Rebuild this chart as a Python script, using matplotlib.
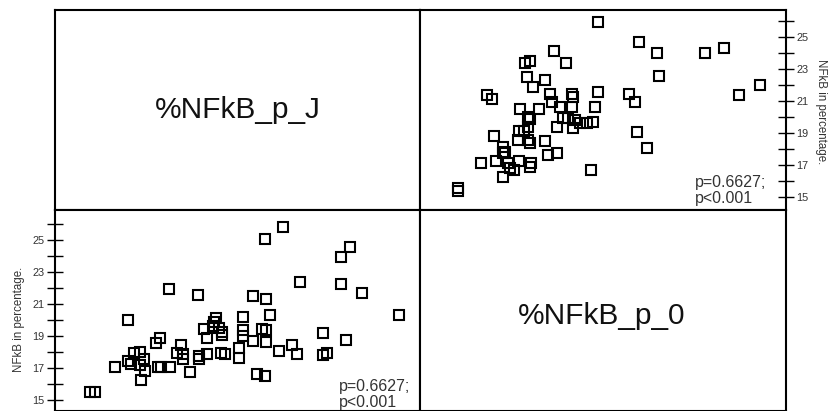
import numpy as np
import matplotlib
matplotlib.use("Agg")
import matplotlib.pyplot as plt

plt.rcParams['font.family'] = ['Liberation Sans', 'DejaVu Sans']

# values: (%NFkB_p_0, %NFkB_p_J) pairs
p_0 = [20.28, 21.66, 22.27, 23.92, 24.57, 18.76, 19.16, 17.78, 17.94, 22.35,
       25.79, 25.08, 17.85, 18.46, 18.06, 16.47, 16.64, 18.63, 19.37, 19.42,
       20.28, 21.33, 21.53, 18.69, 18.97, 19.37, 20.16, 17.60, 18.26, 17.89,
       17.94, 19.08, 19.25, 19.48, 19.65, 19.88, 20.10, 18.86, 19.42, 17.57,
       17.75, 17.89, 21.59, 16.72, 17.55, 17.89, 17.94, 18.46, 17.03, 17.09,
       17.03, 21.93, 18.57, 18.88, 16.27, 16.78, 17.20, 17.26, 17.41, 17.58,
       17.97, 17.94, 17.03, 20.02, 15.48, 15.48]
p_J = [25.96, 24.71, 23.98, 23.98, 24.29, 24.14, 23.36, 23.36, 23.50, 22.58,
       22.00, 21.38, 22.48, 22.31, 21.86, 21.38, 21.11, 21.42, 21.42, 21.27,
       21.54, 21.42, 20.96, 20.96, 20.64, 20.64, 20.61, 20.48, 20.50, 20.02,
       19.88, 19.92, 19.92, 19.81, 19.61, 19.64, 19.71, 19.39, 19.29, 19.13,
       19.13, 19.39, 19.08, 18.81, 18.56, 18.56, 18.36, 18.50, 18.14, 17.83,
       17.73, 18.08, 17.63, 17.77, 17.14, 17.27, 17.11, 16.79, 16.69, 17.25,
       17.11, 16.89, 16.23, 16.69, 15.38, 15.55]

var_names = ['%NFkB_p_J', '%NFkB_p_0']
axis_label = 'NFkB in percentage.'
stat_text = 'p=0.6627;\np<0.001'
major_ticks = [15, 17, 19, 21, 23, 25]
minor_ticks = [16, 18, 20, 22, 24, 26]

W, H = 829, 411
fig = plt.figure(figsize=(W / 100, H / 100), dpi=100)

def box(x0, y0, x1, y1):
    return [x0 / W, (H - y1) / H, (x1 - x0) / W, (y1 - y0) / H]

ax_tl = fig.add_axes(box(55, 10, 420, 210))
ax_tr = fig.add_axes(box(420, 10, 786, 210))
ax_bl = fig.add_axes(box(55, 210, 420, 411))
ax_br = fig.add_axes(box(420, 210, 786, 411))

for ax in [ax_tl, ax_tr, ax_bl, ax_br]:
    for s in ax.spines.values():
        s.set_linewidth(1.5)
        s.set_color('black')
    ax.set_xticks([])
    ax.set_yticks([])

# diagonal name cells
ax_tl.text(0.5, 0.5, var_names[0], transform=ax_tl.transAxes,
           ha='center', va='center', fontsize=21.5, color='#111')
ax_br.text(0.496, 0.475, var_names[1], transform=ax_br.transAxes,
           ha='center', va='center', fontsize=21.5, color='#111')

mk = dict(marker='s', linestyle='none', mfc='none', mec='black', ms=6.8, mew=1.5)

# top right: x = p_0, y = p_J
ax_tr.plot(p_0, p_J, **mk)
ax_tr.set_xlim(14.19, 26.68)
ax_tr.set_ylim(14.19, 26.69)
ax_tr.yaxis.tick_right()
ax_tr.text(0.751, 0.02, stat_text, transform=ax_tr.transAxes, ha='left',
           va='bottom', fontsize=11.5, color='#333', linespacing=1.1)
ax_tr.text(1.096, 0.49, axis_label, transform=ax_tr.transAxes, rotation=-90,
           ha='center', va='center', fontsize=8.3, color='#333')

# bottom left: x = p_J, y = p_0
ax_bl.plot(p_J, p_0, **mk)
ax_bl.set_xlim(14.19, 26.68)
ax_bl.set_ylim(14.31, 26.875)
ax_bl.yaxis.tick_left()
ax_bl.text(0.779, 0.005, stat_text, transform=ax_bl.transAxes, ha='left',
           va='bottom', fontsize=11.5, color='#333', linespacing=1.05)
ax_bl.text(-0.098, 0.455, axis_label, transform=ax_bl.transAxes, rotation=90,
           ha='center', va='center', fontsize=8.3, color='#333')

for ax in [ax_tr, ax_bl]:
    ax.set_yticks(major_ticks)
    ax.set_yticks(minor_ticks, minor=True)
    ax.set_yticklabels([str(t) for t in major_ticks])
    ax.tick_params(axis='y', which='both', direction='inout', length=12,
                   width=1, color='black', labelsize=7.8, labelcolor='#333', pad=1.5)

plt.savefig('out.png', dpi=100)
